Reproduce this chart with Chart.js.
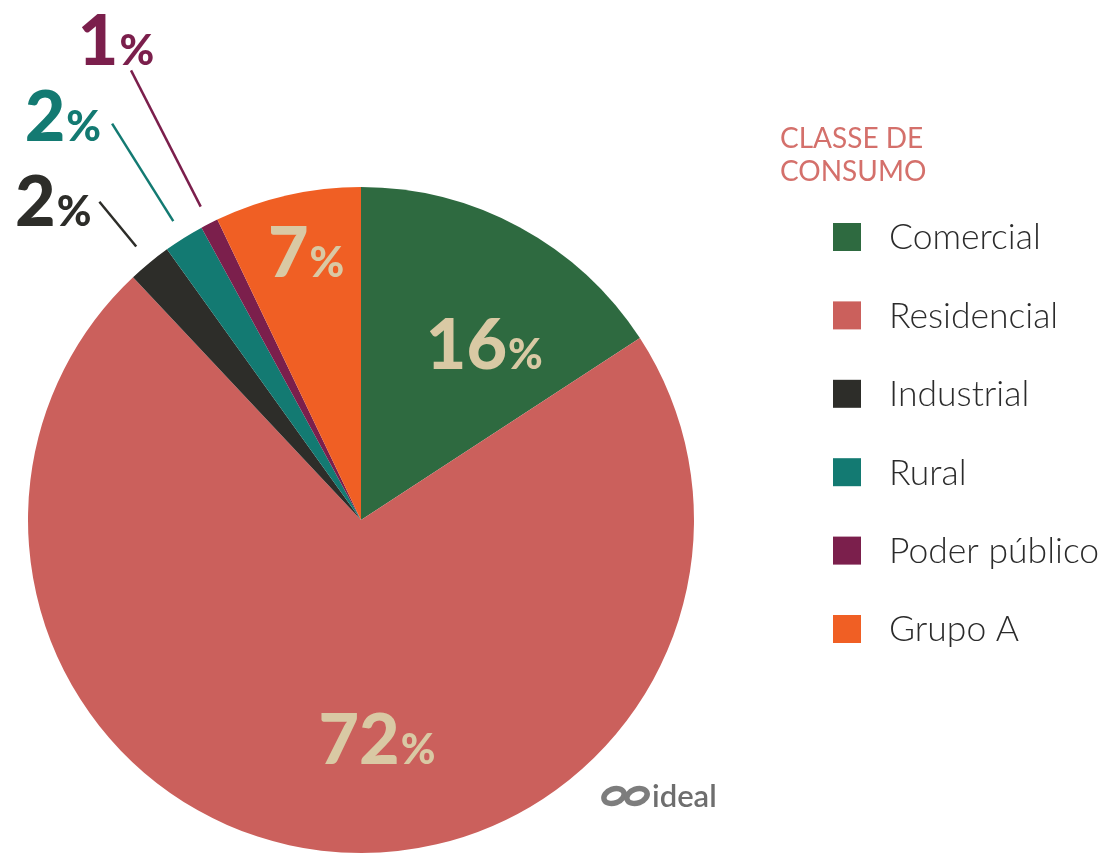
<!DOCTYPE html>
<html>
<head>
<meta charset="utf-8">
<script src="https://cdn.jsdelivr.net/npm/chart.js@4/dist/chart.umd.min.js"></script>
<style>
  html, body { margin: 0; padding: 0; background: #ffffff; }
  #wrap { width: 1101px; height: 857px; position: relative; }
</style>
</head>
<body>
<div id="wrap"><canvas id="c" width="1101" height="857"></canvas></div>
<script>
// ---- data ----
const categories = ['Comercial', 'Residencial', 'Industrial', 'Rural', 'Poder público', 'Grupo A'];
const shares = [15.8, 72.2, 2.1, 1.95, 0.85, 7.1];
const sliceColors = ['#2e6a40', '#cb605c', '#2d2d29', '#137a72', '#7b1f4c', '#f05f24'];
const legendTitle = ['CLASSE DE', 'CONSUMO'];
const logoText = 'ideal';

// label placement styles (per slice): inside labels use polar offsets, outside use leader lines
const labelStyle = [
  { inside: true, r: 0.645, dAng: 6.6 },
  { inside: true, r: 0.66, dAng: -11 },
  { inside: false, color: '#2d2d29', r0: 354, r1: 412, tx: -8, ty: -1, align: 'right' },
  { inside: false, color: '#137a72', r0: 353, r1: 468, tx: -11, ty: -8, align: 'right' },
  { inside: false, color: '#7b1f4c', r0: 352, r1: 505, tx: -15, ty: -30, align: 'center' },
  { inside: true, r: 0.82, dAng: 1.2 }
];

function drawPct(ctx, txt, x, y, color, align) {
  const num = txt;
  ctx.save();
  ctx.fillStyle = color;
  ctx.textAlign = 'left';
  const fNum = '900 70px Lato';
  const fPct = '900 42px Lato';
  ctx.font = fNum; const wN = ctx.measureText(num).width;
  ctx.font = fPct; const wP = ctx.measureText('%').width;
  const w = wN + wP + 1;
  let x0 = x - w / 2;
  if (align === 'right') x0 = x - w;
  ctx.textBaseline = 'alphabetic';
  const base = y + 25;
  ctx.font = fNum; ctx.fillText(num, x0, base);
  ctx.font = fPct; ctx.fillText('%', x0 + wN + 1, base);
  ctx.restore();
}

const labelsPlugin = {
  id: 'pieLabels',
  afterDatasetsDraw(chart) {
    const ctx = chart.ctx;
    const meta = chart.getDatasetMeta(0);
    const vals = chart.data.datasets[0].data;
    meta.data.forEach((arc, i) => {
      const p = arc.getProps(['x', 'y', 'startAngle', 'endAngle', 'outerRadius'], true);
      const mid = (p.startAngle + p.endAngle) / 2;
      const st = labelStyle[i];
      const txt = String(Math.round(vals[i]));
      if (st.inside) {
        const a = mid + st.dAng * Math.PI / 180;
        const rr = p.outerRadius * st.r;
        drawPct(ctx, txt, p.x + Math.cos(a) * rr, p.y + Math.sin(a) * rr, '#d9c9a4', 'center');
      } else {
        const xa = p.x + Math.cos(mid) * st.r0, ya = p.y + Math.sin(mid) * st.r0;
        const xb = p.x + Math.cos(mid) * st.r1, yb = p.y + Math.sin(mid) * st.r1;
        ctx.save();
        ctx.strokeStyle = st.color;
        ctx.lineWidth = 2.5;
        ctx.beginPath(); ctx.moveTo(xa, ya); ctx.lineTo(xb, yb); ctx.stroke();
        ctx.restore();
        drawPct(ctx, txt, xb + st.tx, yb + st.ty, st.color, st.align);
      }
    });
  }
};

const legendPlugin = {
  id: 'customLegend',
  afterDraw(chart) {
    const ctx = chart.ctx;
    ctx.save();
    ctx.fillStyle = '#d4706b';
    ctx.font = '400 28px Lato';
    ctx.textBaseline = 'alphabetic';
    ctx.textAlign = 'left';
    legendTitle.forEach((t, k) => ctx.fillText(t, 780, 148 + k * 33));
    const labels = chart.data.labels;
    const cols = chart.data.datasets[0].backgroundColor;
    labels.forEach((lab, i) => {
      const cy = 237 + i * 78.4;
      ctx.fillStyle = cols[i];
      ctx.fillRect(833, cy - 14, 28, 28);
      ctx.fillStyle = '#2b2b2b';
      ctx.font = '300 35.5px Lato';
      ctx.textBaseline = 'middle';
      ctx.fillText(lab, 889, cy + 1);
    });
    // logo
    ctx.strokeStyle = '#7d7d7d';
    ctx.lineWidth = 5.5;
    [[614, 796], [637, 796]].forEach(([cx, cy]) => {
      ctx.beginPath();
      ctx.ellipse(cx, cy, 10.5, 7, -0.35, 0, Math.PI * 2);
      ctx.stroke();
    });
    ctx.fillStyle = '#6e6e6e';
    ctx.font = '600 31px Lato';
    ctx.textBaseline = 'alphabetic';
    ctx.fillText(logoText, 652, 807);
    ctx.restore();
  }
};

new Chart(document.getElementById('c'), {
  type: 'pie',
  data: {
    labels: categories,
    datasets: [{
      data: shares,
      backgroundColor: sliceColors,
      borderWidth: 0,
      hoverOffset: 0,
      offset: 0
    }]
  },
  options: {
    responsive: false,
    animation: false,
    layout: { padding: { left: 28, top: 187, right: 407, bottom: 4 } },
    plugins: { legend: { display: false }, tooltip: { enabled: false } }
  },
  plugins: [labelsPlugin, legendPlugin]
});
</script>
</body>
</html>
